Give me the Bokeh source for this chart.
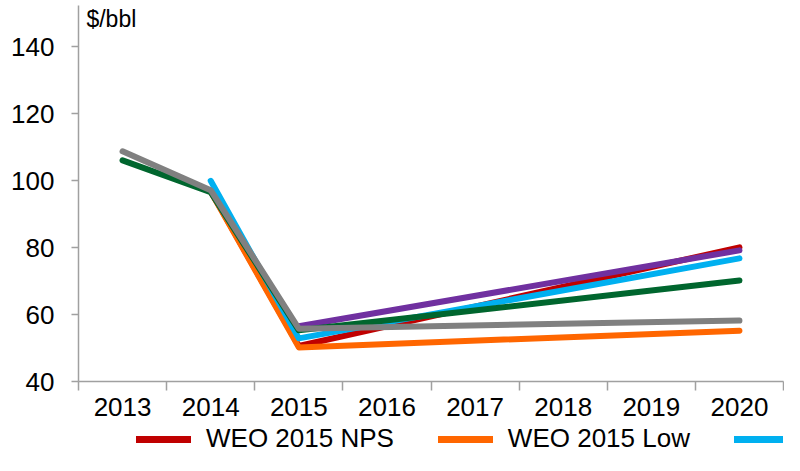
from bokeh.plotting import figure
from bokeh.layouts import column
from bokeh.models import FixedTicker, Range1d, Legend, LegendItem, Label
from bokeh.embed import file_html
from bokeh.resources import INLINE

years = [2013, 2014, 2015, 2016, 2017, 2018, 2019, 2020]

nps_x = [2014, 2015, 2020]
nps_y = [97.0, 50.6, 80.1]

low_x = [2014, 2015, 2020]
low_y = [96.8, 50.2, 55.2]

aeo_x = [2014, 2015, 2020]
aeo_y = [100.0, 52.9, 76.8]

purple_x = [2015, 2020]
purple_y = [56.5, 79.2]

green_x = [2013, 2014, 2015, 2020]
green_y = [106.1, 96.6, 55.3, 70.2]

gray_x = [2013, 2014, 2015, 2020]
gray_y = [108.8, 97.2, 55.8, 58.2]

y_ticks = [40, 60, 80, 100, 120, 140]

legend_labels = ["WEO 2015 NPS", "WEO 2015 Low", "AEO"]

FONT = "Liberation Sans"
C_NPS, C_LOW, C_AEO = "#C00000", "#FF6600", "#00B0F0"

p = figure(width=784, height=427, output_backend="svg", toolbar_location=None,
           x_range=Range1d(2012.5, 2020.5), y_range=Range1d(40, 152.4),
           min_border_left=78, min_border_right=1, min_border_top=5, min_border_bottom=46)
p.outline_line_color = None
p.grid.grid_line_color = None
p.background_fill_color = "white"
p.border_fill_color = "white"

# x axis: labels at centers, tick marks at boundaries
xt = FixedTicker(ticks=years, minor_ticks=[y - 0.5 for y in years] + [years[-1] + 0.5])
p.xaxis.ticker = xt
p.xaxis.major_label_overrides = {y: str(y) for y in years}
p.xaxis.major_tick_out = 0
p.xaxis.major_tick_in = 0
p.xaxis.minor_tick_out = 9
p.xaxis.minor_tick_in = 0
p.xaxis.major_label_standoff = 7
p.xaxis.axis_label = None
p.xaxis.axis_label_standoff = 0

p.yaxis.ticker = FixedTicker(ticks=y_ticks)
p.yaxis.major_tick_out = 7
p.yaxis.major_tick_in = 0
p.yaxis.minor_tick_out = 0
p.yaxis.minor_tick_in = 0
p.yaxis.major_label_standoff = 17
p.yaxis.axis_label = None

for ax in (p.xaxis, p.yaxis):
    ax.axis_line_color = "#A0A0A0"
    ax.axis_line_width = 1.5
    ax.major_tick_line_color = "#A0A0A0"
    ax.major_tick_line_width = 1.5
    ax.minor_tick_line_color = "#A0A0A0"
    ax.minor_tick_line_width = 1.5
    ax.major_label_text_font = FONT
    ax.major_label_text_font_size = "26px"
    ax.major_label_text_color = "black"

lw = 6
p.line(nps_x, nps_y, line_color=C_NPS, line_width=lw, line_cap="round", line_join="round")
p.line(low_x, low_y, line_color=C_LOW, line_width=lw, line_cap="round", line_join="round")
p.line(aeo_x, aeo_y, line_color=C_AEO, line_width=lw, line_cap="round", line_join="round")
p.line(purple_x, purple_y, line_color="#7030A0", line_width=lw, line_cap="round", line_join="round")
p.line(green_x, green_y, line_color="#00662E", line_width=lw, line_cap="round", line_join="round")
p.line(gray_x, gray_y, line_color="#808080", line_width=lw, line_cap="round", line_join="round")

p.add_layout(Label(x=2012.59, y=152.2, text="$/bbl", text_baseline="top", text_align="left",
                   text_font=FONT, text_font_size="23px", text_color="black"))

# legend strip below the chart (its own small figure, same series styles)
lg = figure(width=784, height=28, output_backend="svg", toolbar_location=None,
            x_range=Range1d(0, 1), y_range=Range1d(0, 1),
            x_axis_location=None, y_axis_location=None,
            min_border_left=0, min_border_right=0, min_border_top=0, min_border_bottom=0)
lg.grid.grid_line_color = None
lg.outline_line_color = None
lg.border_fill_color = "white"
ln1 = lg.line(nps_x, nps_y, line_color=C_NPS, line_width=7, line_cap="round")
ln2 = lg.line(low_x, low_y, line_color=C_LOW, line_width=7, line_cap="round")
ln3 = lg.line(aeo_x, aeo_y, line_color=C_AEO, line_width=7, line_cap="round")

legend = Legend(items=[LegendItem(label=legend_labels[0], renderers=[ln1]),
                       LegendItem(label=legend_labels[1], renderers=[ln2]),
                       LegendItem(label=legend_labels[2], renderers=[ln3])],
                orientation="horizontal", location=(58, 1),
                padding=0, margin=0, spacing=44, label_standoff=15,
                glyph_width=55, glyph_height=26, label_height=26,
                border_line_color=None, background_fill_alpha=0,
                label_text_font=FONT, label_text_font_size="26px", label_text_color="black")
lg.add_layout(legend, "center")

layout = column(p, lg, spacing=0)
open("out.html", "w").write(file_html(layout, INLINE))
